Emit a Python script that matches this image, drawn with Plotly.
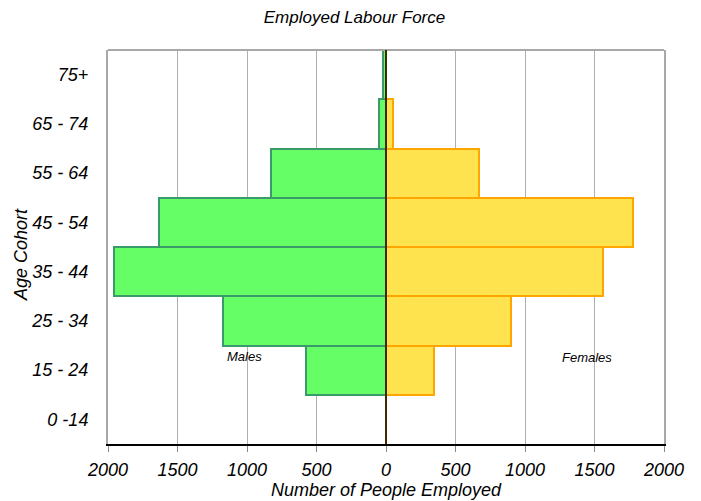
import plotly.graph_objects as go

age_groups = ["0 -14", "15 - 24", "25 - 34", "35 - 44", "45 - 54", "55 - 64", "65 - 74", "75+"]
males = [0, 575, 1170, 1960, 1630, 830, 50, 25]
females = [0, 345, 900, 1560, 1780, 670, 50, 0]
tick_vals = [-2000, -1500, -1000, -500, 0, 500, 1000, 1500, 2000]
tick_text = ["2000", "1500", "1000", "500", "0", "500", "1000", "1500", "2000"]

FONT = "Liberation Sans, Arial, sans-serif"

fig = go.Figure()
fig.add_trace(go.Bar(
    y=age_groups, x=[-v for v in males], orientation="h", name="Males",
    marker=dict(color="#66ff66", line=dict(color="#3a9a6a", width=2),
                pattern=dict(shape="x", size=3, solidity=0.15, fgcolor="#5ce65c")),
    hoverinfo="skip",
))
fig.add_trace(go.Bar(
    y=age_groups, x=females, orientation="h", name="Females",
    marker=dict(color="#ffe34f", line=dict(color="#ffa500", width=2),
                pattern=dict(shape="x", size=3, solidity=0.15, fgcolor="#f2d645")),
    hoverinfo="skip",
))

fig.update_layout(
    width=693, height=493,
    margin=dict(l=100, r=37, t=42, b=57, autoexpand=False),
    paper_bgcolor="white", plot_bgcolor="white",
    barmode="overlay", bargap=0,
    showlegend=False,
    font=dict(family=FONT, color="black"),
    title=dict(text="<i>Employed Labour Force</i>", x=0.5, xanchor="center",
               y=1 - 9.5 / 493, yanchor="middle", font=dict(size=17, family=FONT)),
    xaxis=dict(
        range=[-2000, 2000], tickvals=tick_vals, ticktext=["<i>%s</i>" % t for t in tick_text],
        tickfont=dict(size=18, family=FONT), showgrid=True, gridcolor="#b0b0b0", gridwidth=1,
        zeroline=False,
        showline=True, linecolor="black", linewidth=1.5,
        ticks="outside", ticklen=6, tickcolor="#888888", ticklabelstandoff=3,
        fixedrange=True, automargin=False,
    ),
    yaxis=dict(
        categoryorder="array", categoryarray=age_groups, range=[-0.5, 7.5],
        ticktext=["<i>%s</i>" % a for a in age_groups], tickvals=age_groups,
        tickfont=dict(size=18, family=FONT), showgrid=False, zeroline=False,
        showline=True, linecolor="#a8a8a8", linewidth=2, mirror=True,
        ticks="", ticklabelstandoff=14,
        fixedrange=True, automargin=False,
    ),
    shapes=[
        dict(type="line", xref="paper", yref="paper", x0=0, x1=1, y0=1, y1=1,
             line=dict(color="#a8a8a8", width=2)),
        dict(type="line", xref="x", yref="paper", x0=0, x1=0, y0=0, y1=1,
             line=dict(color="black", width=1.5), layer="above"),
    ],
    annotations=[
        dict(text="<i>Males</i>", x=-1020, y=1.28, xref="x", yref="y", showarrow=False,
             font=dict(size=13, family=FONT)),
        dict(text="<i>Females</i>", x=1445, y=1.26, xref="x", yref="y", showarrow=False,
             font=dict(size=13, family=FONT)),
        dict(text="<i>Number of People Employed</i>", x=0.5, y=0, xref="paper", yref="paper",
             xanchor="center", yanchor="middle", yshift=-46, showarrow=False,
             font=dict(size=18, family=FONT)),
        dict(text="<i>Age Cohort</i>", x=0, y=0.5, xref="paper", yref="paper",
             xanchor="center", yanchor="middle", xshift=-87, yshift=-8, textangle=-90,
             showarrow=False, font=dict(size=18, family=FONT)),
    ],
)

fig.write_html("out.html")
